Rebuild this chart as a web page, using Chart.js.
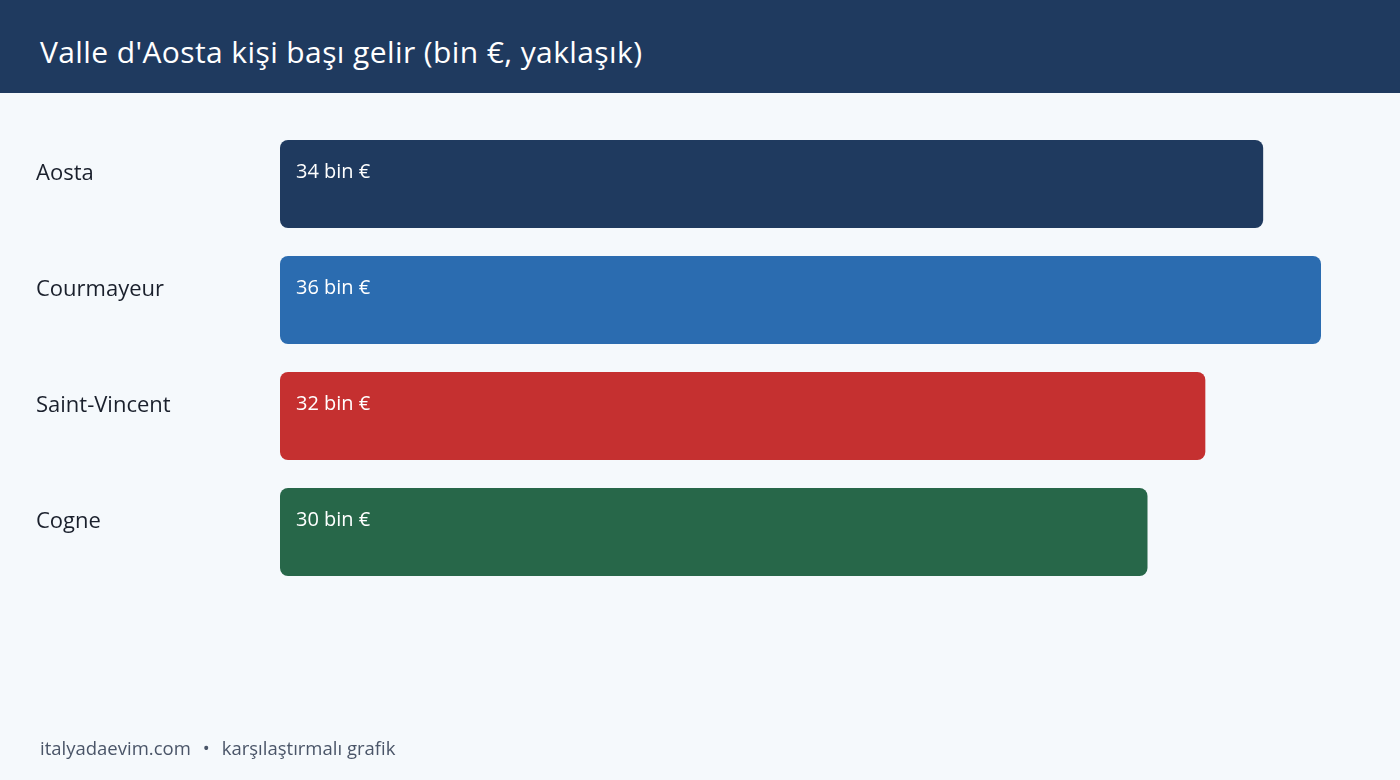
<!DOCTYPE html>
<html>
<head>
<meta charset="utf-8">
<style>
  body {
    margin: 0;
    width: 1400px;
    height: 780px;
    background: #f5f9fc;
    font-family: "Open Sans", sans-serif;
    position: relative;
    overflow: hidden;
  }
  .header {
    position: absolute;
    top: 0;
    left: 0;
    width: 1400px;
    height: 93px;
    background: #1f3a5f;
  }
  .header h1 {
    margin: 0;
    position: absolute;
    left: 40px;
    top: 37px;
    color: #ffffff;
    font-size: 30px;
    font-weight: 400;
    line-height: 1;
    letter-spacing: 0.4px;
  }
  .footer {
    position: absolute;
    left: 40px;
    top: 737px;
    color: #4a5568;
    font-size: 18.5px;
    line-height: 1.2;
  }
  .footer .dot {
    margin: 0 12px;
  }
  .chart_box {
    position: absolute;
    top: 0;
    left: 0;
    width: 1400px;
    height: 780px;
  }
</style>
</head>
<body>
  <div class="header"><h1>Valle d'Aosta kişi başı gelir (bin €, yaklaşık)</h1></div>
  <div class="chart_box"><canvas id="incomeChart" width="1400" height="780"></canvas></div>
  <div class="footer">italyadaevim.com<span class="dot">•</span>karşılaştırmalı grafik</div>

  <script src="https://cdn.jsdelivr.net/npm/chart.js"></script>
  <script>
    const towns = ["Aosta", "Courmayeur", "Saint-Vincent", "Cogne"];
    const income = [34, 36, 32, 30];
    const valueLabels = ["34 bin €", "36 bin €", "32 bin €", "30 bin €"];
    const barColors = ["#1f3a5f", "#2b6cb0", "#c53030", "#276749"];

    // value text inside each bar, top-left
    const barText = {
      id: "barText",
      afterDatasetsDraw(chart) {
        const ctx = chart.ctx;
        const bars = chart.getDatasetMeta(0).data;
        ctx.save();
        ctx.font = '20px "Open Sans", sans-serif';
        ctx.fillStyle = "#ffffff";
        ctx.textAlign = "left";
        ctx.textBaseline = "middle";
        bars.forEach((bar, i) => {
          ctx.fillText(valueLabels[i], bar.base + 16, bar.y - 12);
        });
        ctx.restore();
      },
    };

    const ctx = document.getElementById("incomeChart").getContext("2d");
    new Chart(ctx, {
      type: "bar",
      data: {
        labels: towns,
        datasets: [
          {
            data: income,
            backgroundColor: barColors,
            borderRadius: 8,
            borderSkipped: false,
            barPercentage: 0.7586,
            categoryPercentage: 1,
          },
        ],
      },
      options: {
        indexAxis: "y",
        responsive: false,
        animation: false,
        devicePixelRatio: 1,
        layout: {
          padding: { left: 36, right: 79, top: 126, bottom: 190 },
        },
        plugins: {
          legend: { display: false },
          tooltip: { enabled: false },
        },
        scales: {
          x: {
            min: 0,
            max: 36,
            display: false,
          },
          y: {
            grid: { display: false },
            border: { display: false },
            afterFit: (scale) => {
              scale.width = 244;
            },
            ticks: {
              crossAlign: "far",
              padding: 0,
              labelOffset: -10,
              color: "#1a202c",
              font: { family: '"Open Sans", sans-serif', size: 22 },
            },
          },
        },
      },
      plugins: [barText],
    });
  </script>
</body>
</html>
